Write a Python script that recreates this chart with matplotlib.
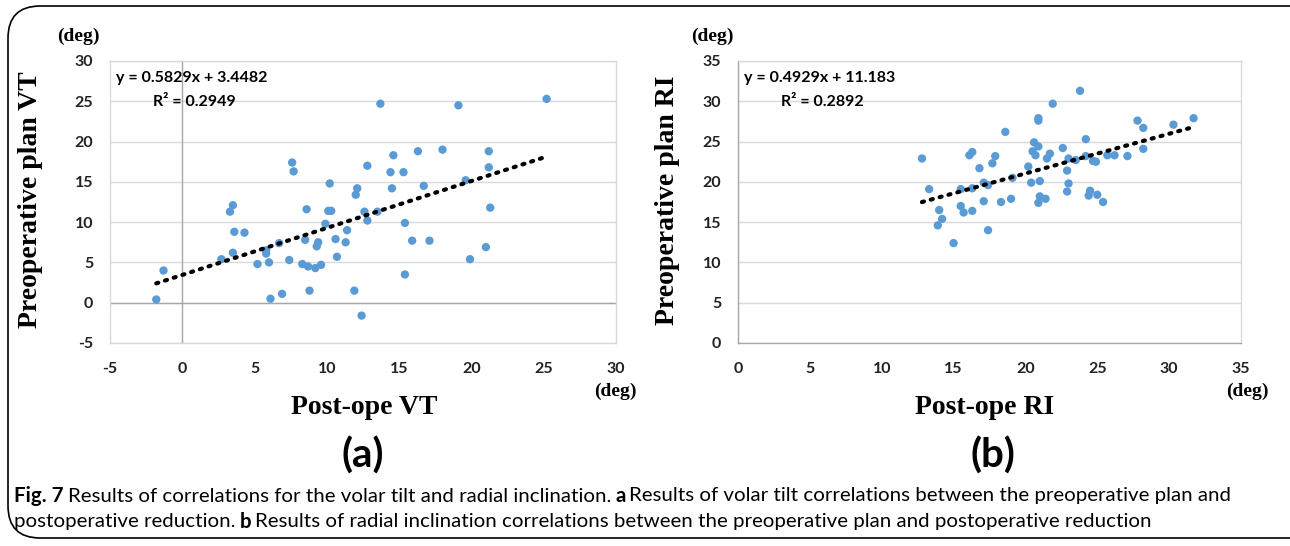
import matplotlib
matplotlib.use("Agg")
import matplotlib.pyplot as plt
from matplotlib.patches import FancyBboxPatch
import numpy as np

plt.rcParams["axes.unicode_minus"] = False

# ---------------- data ----------------
vt_post = [-1.8, -1.3, 2.7, 3.3, 3.5, 3.6, 3.5, 4.3, 5.2, 5.8, 5.8, 6.0, 6.1, 6.7, 6.9,
           7.4, 7.6, 7.7, 8.3, 8.5, 8.6, 8.7, 8.8, 9.2, 9.3, 9.4, 9.6, 9.9, 10.1, 10.3,
           10.2, 10.6, 10.7, 11.3, 11.4, 11.9, 12.0, 12.1, 12.4, 12.6, 12.8, 12.8, 13.5,
           13.7, 14.4, 14.5, 14.6, 15.3, 15.4, 15.4, 15.9, 16.3, 16.7, 17.1, 18.0, 19.1,
           19.6, 19.9, 21.0, 21.2, 21.2, 21.3, 25.2]
vt_plan = [0.4, 4.0, 5.4, 11.3, 12.1, 8.8, 6.2, 8.7, 4.8, 6.5, 6.1, 5.0, 0.5, 7.4, 1.1,
           5.3, 17.4, 16.3, 4.8, 7.8, 11.6, 4.5, 1.5, 4.3, 7.0, 7.5, 4.7, 9.8, 11.4, 11.4,
           14.8, 7.9, 5.7, 7.5, 9.0, 1.5, 13.4, 14.2, -1.6, 11.3, 10.2, 17.0, 11.3,
           24.7, 16.2, 14.2, 18.3, 16.2, 9.9, 3.5, 7.7, 18.8, 14.5, 7.7, 19.0, 24.5,
           15.2, 5.4, 6.9, 18.8, 16.8, 11.8, 25.3]
vt_slope, vt_intercept, vt_r2 = 0.5829, 3.4482, 0.2949

ri_post = [12.8, 13.3, 13.9, 14.0, 14.2, 15.0, 15.5, 15.5, 15.7, 16.1, 16.3, 16.3, 16.3,
           16.8, 17.1, 17.1, 17.4, 17.4, 17.7, 17.9, 18.3, 18.6, 19.0, 19.1, 20.2, 20.4,
           20.5, 20.6, 20.7, 20.9, 20.9, 20.9, 21.0, 20.9, 21.0, 21.4, 21.5, 21.7, 21.9,
           22.6, 22.9, 23.0, 23.0, 22.9, 23.5, 23.8, 24.2, 24.2, 24.5, 24.4, 24.7, 24.9,
           25.0, 25.4, 25.7, 26.2, 27.1, 27.8, 28.2, 28.2, 30.3, 31.7]
ri_plan = [22.9, 19.1, 14.6, 16.5, 15.4, 12.4, 19.1, 17.0, 16.2, 23.3, 23.7, 16.4, 19.2,
           21.7, 19.9, 17.6, 19.6, 14.0, 22.3, 23.2, 17.5, 26.2, 17.9, 20.5, 21.9, 19.9,
           23.8, 24.9, 23.3, 27.9, 27.6, 24.4, 20.1, 17.4, 18.2, 17.9, 22.9, 23.5, 29.7,
           24.2, 21.4, 22.9, 19.8, 18.8, 22.7, 31.3, 25.3, 23.2, 18.9, 18.3, 22.6, 22.5,
           18.4, 17.5, 23.3, 23.3, 23.2, 27.6, 26.7, 24.1, 27.1, 27.9]
ri_slope, ri_intercept, ri_r2 = 0.4929, 11.183, 0.2892

vt_ticks = [-5, 0, 5, 10, 15, 20, 25, 30]
ri_ticks = [0, 5, 10, 15, 20, 25, 30, 35]

# ---------------- figure ----------------
W, H = 1290, 546
fig = plt.figure(figsize=(W / 100, H / 100), dpi=100)
fig.patch.set_facecolor("white")

def px_axes(l, t, r, b):
    return fig.add_axes([l / W, 1 - b / H, (r - l) / W, (b - t) / H])

border = FancyBboxPatch((8 / W, 8 / H), (W + 40) / W, (H - 14) / H,
                        boxstyle="round,pad=0,rounding_size=0.025",
                        transform=fig.transFigure, fill=False,
                        edgecolor="black", linewidth=1.2, mutation_aspect=W / H)
fig.patches.append(border)

SERIF = "Liberation Serif"
SANS = "Lato"
BLUE = "#5B9BD5"
GRID = "#D9D9D9"
AXIS = "#A6A6A6"


def panel(ax, x, y, slope, intercept, lim, ticks, cross_axes, eq_txt):
    ax.set_xlim(lim)
    ax.set_ylim(lim)
    ax.set_xticks(ticks)
    ax.set_yticks(ticks)
    for s in ax.spines.values():
        s.set_color(GRID)
        s.set_linewidth(1.0)
    ax.grid(axis="y", color=GRID, linewidth=1.0)
    ax.set_axisbelow(True)
    ax.tick_params(length=0, labelsize=11.5)
    for lab in ax.get_xticklabels() + ax.get_yticklabels():
        lab.set_fontfamily(SANS)
        lab.set_fontweight("bold")
        lab.set_color("#222222")
    ax.tick_params(axis="x", pad=14)
    ax.tick_params(axis="y", pad=12)
    if cross_axes:
        ax.axhline(0, color=AXIS, linewidth=1.0, zorder=1)
        ax.axvline(0, color=AXIS, linewidth=1.0, zorder=1)
    else:
        ax.spines["bottom"].set_color(AXIS)
        ax.spines["left"].set_color(AXIS)
    ax.scatter(x, y, s=36, color=BLUE, edgecolors="none", zorder=3)
    xs = np.array([min(x), max(x)])
    ax.plot(xs, slope * xs + intercept, color="black", linewidth=3,
            linestyle=(0, (0.5, 1.7)), dash_capstyle="round", zorder=4)
    ax.text(0.012, 0.94, eq_txt[0], transform=ax.transAxes, fontfamily=SANS,
            fontweight="bold", fontsize=11.5, va="center", ha="left")
    ax.text(0.085, 0.855, eq_txt[1], transform=ax.transAxes, fontfamily=SANS,
            fontweight="bold", fontsize=11.5, va="center", ha="left")


# panel (a)
axa = px_axes(110, 61, 616, 343)
panel(axa, vt_post, vt_plan, vt_slope, vt_intercept, (-5, 30), vt_ticks, True,
      ("y = %.4fx + %.4f" % (vt_slope, vt_intercept), "R\u00b2 = %.4f" % vt_r2))
# panel (b)
axb = px_axes(738, 61, 1241, 343)
panel(axb, ri_post, ri_plan, ri_slope, ri_intercept, (0, 35), ri_ticks, False,
      ("y = %.4fx + %.3f" % (ri_slope, ri_intercept), "R\u00b2 = %.4f" % ri_r2))

def ftext(x, y, s, **kw):
    return fig.text(x / W, 1 - y / H, s, **kw)

# (deg) labels and axis titles
for (dx, yl_x, ylab, xdx, xl_x, xlab) in [
        (78, 31, "Preoperative plan VT", 615, 364, "Post-ope VT"),
        (712, 667, "Preoperative plan RI", 1247, 985, "Post-ope RI")]:
    ftext(dx, 36, "(deg)", fontfamily=SERIF, fontweight="bold", fontsize=14,
          ha="center", va="center")
    ftext(yl_x, 200, ylab, fontfamily=SERIF, fontweight="bold", fontsize=20,
          ha="center", va="center", rotation=90)
    ftext(xdx, 391, "(deg)", fontfamily=SERIF, fontweight="bold", fontsize=14,
          ha="center", va="center")
    ftext(xl_x, 408, xlab, fontfamily=SERIF, fontweight="bold", fontsize=20,
          ha="center", va="center")

ftext(363, 456, "(a)", fontfamily=SANS, fontweight="bold", fontsize=29,
      ha="center", va="center")
ftext(993, 456, "(b)", fontfamily=SANS, fontweight="bold", fontsize=29,
      ha="center", va="center")

# caption
cap_font = dict(fontfamily="Lato", fontsize=14.75, va="center", ha="left")
line1 = [("Fig. 7 ", "bold"),
         ("Results of correlations for the volar tilt and radial inclination. ", "normal"),
         ("a ", "bold"),
         ("Results of volar tilt correlations between the preoperative plan and", "normal")]
line2 = [("postoperative reduction. ", "normal"), ("b ", "bold"),
         ("Results of radial inclination correlations between the preoperative plan and postoperative reduction", "normal")]

fig.canvas.draw()
r = fig.canvas.get_renderer()
for yy, runs in [(496, line1), (522, line2)]:
    x = 14
    for s, w in runs:
        t = ftext(x, yy, s.rstrip(" "), fontweight=w, **cap_font)
        x = t.get_window_extent(renderer=r).x1 + (4 if s.endswith(" ") else 0)

fig.savefig("out.png", dpi=100)
